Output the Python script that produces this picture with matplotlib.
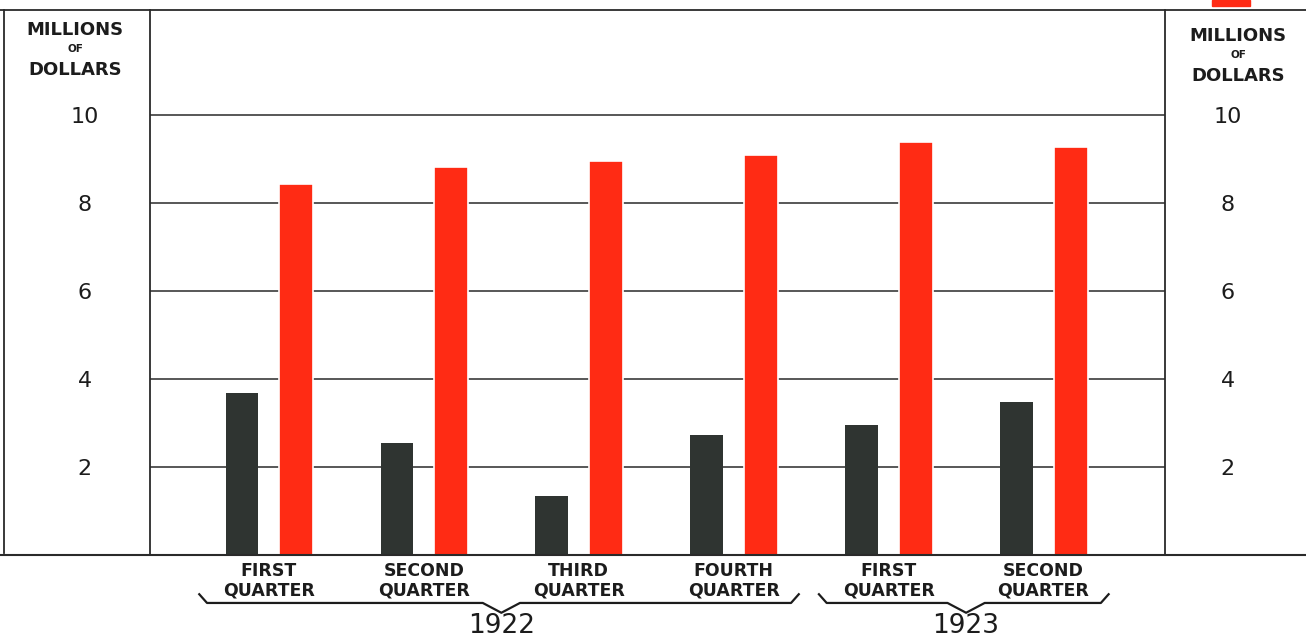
#!/usr/bin/env python3
# -*- coding: utf-8 -*-
"""
Quarterly figures, 1922 - 1923, in millions of dollars.
Dark bar and red bar for each quarter, year braces under the quarter names.
"""
import matplotlib.pyplot as plt
import matplotlib.transforms as mtransforms
from matplotlib.lines import Line2D
from matplotlib.patches import Rectangle

#------------------------------------------------------------------------------#
quarters = ['FIRST\nQUARTER', 'SECOND\nQUARTER', 'THIRD\nQUARTER',
            'FOURTH\nQUARTER', 'FIRST\nQUARTER', 'SECOND\nQUARTER']
years = ['1922', '1923']
year_groups = [(0, 3), (4, 5)]          # first and last quarter index per year
dark_values = [3.68, 2.55, 1.34, 2.73, 2.95, 3.48]
red_values = [8.43, 8.82, 8.95, 9.09, 9.39, 9.27]
y_ticks = [2, 4, 6, 8, 10]

DARK = '#2f3431'
RED = '#ff2b14'
INK = '#1c1c1c'
RULE = '#2a2a2a'
W, H = 1306, 639

#------------------------------------------------------------------------------#
fig = plt.figure(figsize=(W / 100, H / 100), dpi=100)
fig.patch.set_facecolor('white')

# axes box in pixels: x 150..1165, baseline at 555, top rule at 10
ax = fig.add_axes([150 / W, (H - 555) / H, 1015 / W, 545 / H])
x = list(range(len(quarters)))
off = 0.175
bw = 0.21

ax.bar([i - off for i in x], dark_values, width=bw, color=DARK, zorder=3)
ax.bar([i + off for i in x], red_values, width=bw + 0.01, color=RED,
       edgecolor='white', linewidth=1.2, zorder=3)

ax.set_xlim(-0.768, 5.784)
ax.set_ylim(0, 12.39)
for v in y_ticks:
    ax.axhline(v, color=RULE, lw=1.1, zorder=1)

for s in ['top', 'bottom']:
    ax.spines[s].set_visible(False)
for s in ['left', 'right']:
    ax.spines[s].set_color(RULE)
    ax.spines[s].set_linewidth(1.3)

ax.set_xticks([])
ax.set_yticks(y_ticks)
ax.set_yticklabels([str(v) for v in y_ticks], fontsize=16, color=INK)
ax.tick_params(axis='y', length=0, pad=47)
for lab in ax.get_yticklabels():
    lab.set_horizontalalignment('center')

ax2 = ax.twinx()
ax2.set_ylim(ax.get_ylim())
ax2.set_yticks(y_ticks)
ax2.set_yticklabels([str(v) for v in y_ticks], fontsize=16, color=INK)
ax2.tick_params(axis='y', length=0, pad=45)
for lab in ax2.get_yticklabels():
    lab.set_horizontalalignment('center')
for s in ax2.spines.values():
    s.set_visible(False)

# quarter names under the bars
trans = mtransforms.blended_transform_factory(ax.transData, ax.transAxes)
for i, q in enumerate(quarters):
    ax.text(i, -0.047, q, transform=trans, ha='center', va='center',
            fontsize=12.5, fontweight='bold', color=INK, linespacing=1.15)

# year braces
y_end, y_bar, y_tip = -0.072, -0.088, -0.106
for (a, b), yr in zip(year_groups, years):
    x0, x1 = a - 0.45, b + 0.42
    xc = (a + b) / 2
    xs = [x0, x0 + 0.05, xc - 0.12, xc, xc + 0.12, x1 - 0.05, x1]
    ys = [y_end, y_bar, y_bar, y_tip, y_bar, y_bar, y_end]
    ax.plot(xs, ys, transform=trans, color=INK, lw=1.6, clip_on=False)
    ax.text(xc, -0.131, yr, transform=trans, ha='center', va='center',
            fontsize=19, color=INK)

# axis headers, both sides
for cx, cy in [(75, 50), (1238, 56)]:
    fig.text(cx / W, 1 - (cy - 20) / H, 'MILLIONS', ha='center', va='center',
             fontsize=13, fontweight='bold', color=INK)
    fig.text(cx / W, 1 - (cy - 1) / H, 'OF', ha='center', va='center',
             fontsize=7.5, fontweight='bold', color=INK)
    fig.text(cx / W, 1 - (cy + 20) / H, 'DOLLARS', ha='center', va='center',
             fontsize=13, fontweight='bold', color=INK)

# outer frame rules
fig.add_artist(Line2D([0, 1], [1 - 10 / H, 1 - 10 / H], color=RULE, lw=1.3))
fig.add_artist(Line2D([0, 1], [1 - 555 / H, 1 - 555 / H], color=RULE, lw=1.5))
fig.add_artist(Line2D([4 / W, 4 / W], [1 - 10 / H, 1 - 553 / H], color=RULE, lw=1.3))
fig.add_artist(Rectangle((1212 / W, 1 - 6 / H), 38 / W, 6 / H,
                         transform=fig.transFigure, color=RED))

fig.savefig('out.png', dpi=100)
